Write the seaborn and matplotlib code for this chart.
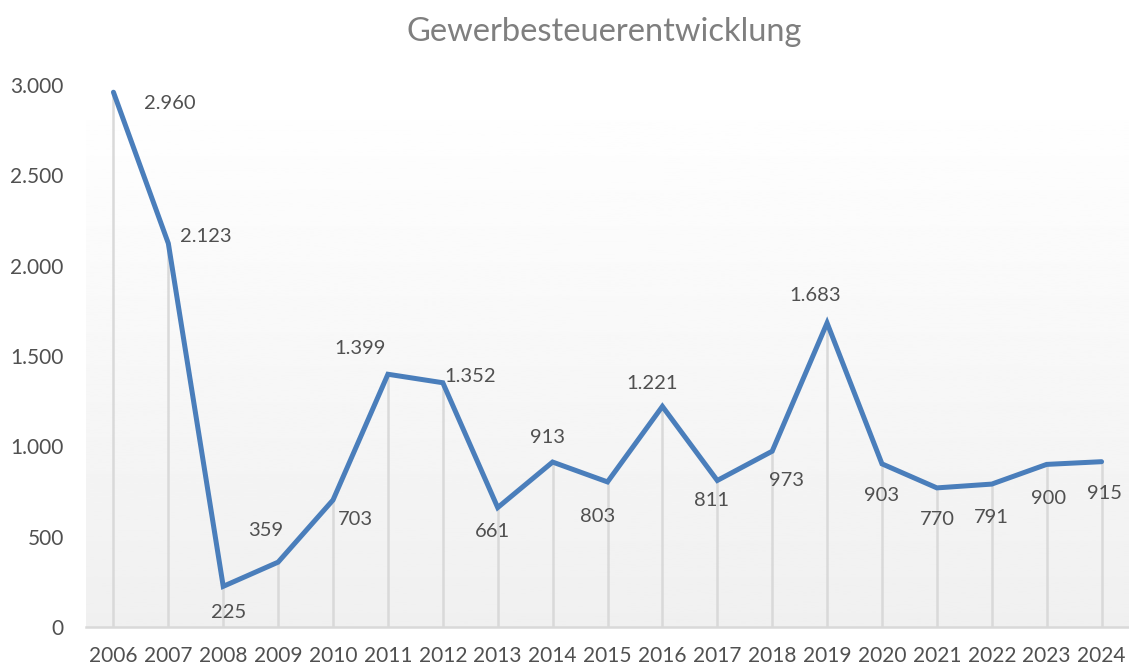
import numpy as np
import matplotlib.pyplot as plt
import matplotlib.ticker as mticker
import seaborn as sns

# Gewerbesteuer je Jahr (Tsd.)
years = [2006, 2007, 2008, 2009, 2010, 2011, 2012, 2013, 2014, 2015,
         2016, 2017, 2018, 2019, 2020, 2021, 2022, 2023, 2024]
values = [2960, 2123, 225, 359, 703, 1399, 1352, 661, 913, 803,
          1221, 811, 973, 1683, 903, 770, 791, 900, 915]
y_ticks = [0, 500, 1000, 1500, 2000, 2500, 3000]

# label offsets in pixels (dx, dy) relative to each point
label_offsets = [(56, -11), (37, 7), (5, -26), (-12, 32), (22, -20), (-28, 26),
                 (27, 6), (-5, -24), (-5, 25), (-10, -35), (-10, 23), (-6, -20),
                 (14, -29), (-12, 27), (0, -32), (1, -32), (0, -33), (2, -34), (3, -32)]

sns.set_style('white')
plt.rcParams['font.family'] = ['Lato', 'DejaVu Sans']

def de_fmt(v):
    return f"{v:,.0f}".replace(",", ".")

fig = plt.figure(figsize=(11.29, 6.66), dpi=100)
ax = fig.add_axes([86 / 1129, 1 - 627 / 666, 1 - 86 / 1129, (627 - 85) / 666])

# gradient background of the plot area
grad = np.linspace(0.94, 1.0, 256).reshape(-1, 1)
ax.imshow(grad, extent=[0, 1, 0, 1], transform=ax.transAxes, cmap='gray',
          vmin=0, vmax=1, aspect='auto', origin='lower', zorder=0)

# drop lines
ax.vlines(years, 0, values, color='#d9d9d9', linewidth=1.8, zorder=1)

sns.lineplot(x=years, y=values, ax=ax, color='#4a7ebb', linewidth=3.6,
             zorder=3, solid_joinstyle='miter')

for x, v, (dx, dy) in zip(years, values, label_offsets):
    ax.annotate(de_fmt(v), (x, v), xytext=(dx, dy), textcoords='offset pixels',
                ha='center', va='center', fontsize=14.5, color='#505050', zorder=4)

ax.set_xlim(2005.5, 2024.5)
ax.set_ylim(0, 3000)
ax.set_xticks(years)
ax.set_xticklabels([str(y) for y in years])
ax.set_yticks(y_ticks)
ax.yaxis.set_major_formatter(mticker.FuncFormatter(lambda v, p: de_fmt(v)))
ax.tick_params(axis='x', length=0, pad=14, labelsize=15, colors='#505050')
ax.tick_params(axis='y', length=0, pad=16, labelsize=15, colors='#505050')

for side in ['top', 'right', 'left']:
    ax.spines[side].set_visible(False)
ax.spines['bottom'].set_color('#d9d9d9')
ax.spines['bottom'].set_linewidth(1.8)

fig.text(0.535, 0.952, 'Gewerbesteuerentwicklung', ha='center', va='center',
         fontsize=23.5, color='#7f7f7f')

fig.savefig('out.png', dpi=100)
